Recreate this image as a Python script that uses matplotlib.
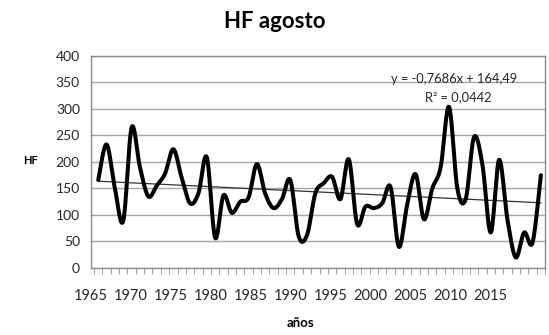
import numpy as np
import matplotlib.pyplot as plt
from matplotlib.ticker import MultipleLocator

plt.rcParams['font.family'] = ['Lato', 'DejaVu Sans']

years = list(range(1965, 2019))
hf = [166, 233, 150, 89, 265, 190, 135, 155, 178, 224,
      170, 122, 141, 209, 57, 137, 104, 125, 133, 196,
      140, 113, 130, 166, 60, 62, 141, 160, 172, 130,
      205, 83, 116, 113, 122, 153, 40, 120, 177, 92,
      150, 190, 304, 150, 130, 247, 195, 67, 204, 91,
      20, 67, 48, 175]
tick_years = [1965, 1970, 1975, 1980, 1985, 1990, 1995, 2000, 2005, 2010, 2015]
slope, intercept = -0.7686, 164.49


def smooth(x, y, n=20):
    # Excel-style smoothed line: Catmull-Rom curves through the points
    x = np.asarray(x, float)
    y = np.asarray(y, float)
    px = np.concatenate([[x[0]], x, [x[-1]]])
    py = np.concatenate([[y[0]], y, [y[-1]]])
    xs, ys = [], []
    t = np.linspace(0, 1, n, endpoint=False)
    for i in range(1, len(px) - 2):
        p0, p1, p2, p3 = [np.array([px[j], py[j]]) for j in (i - 1, i, i + 1, i + 2)]
        c1 = p1 + (p2 - p0) / 6
        c2 = p2 - (p3 - p1) / 6
        pts = ((1 - t) ** 3)[:, None] * p1 + (3 * (1 - t) ** 2 * t)[:, None] * c1 \
            + (3 * (1 - t) * t ** 2)[:, None] * c2 + (t ** 3)[:, None] * p2
        xs.extend(pts[:, 0])
        ys.extend(pts[:, 1])
    xs.append(x[-1])
    ys.append(y[-1])
    return np.array(xs), np.array(ys)


fig = plt.figure(figsize=(5.49, 3.35), dpi=100)
ax = fig.add_axes([0.1658, 0.2, 0.827, 0.633])

sx, sy = smooth(years, hf)
ax.plot(sx, sy, color='black', lw=2.9, solid_capstyle='round', zorder=3)

idx = np.arange(1, len(years) + 1)
ax.plot(years, slope * idx + intercept, color='#333333', lw=0.9, zorder=2)

ax.set_xlim(1964.5, 2018.5)
ax.set_ylim(0, 400)
ax.yaxis.set_major_locator(MultipleLocator(50))
ax.grid(axis='y', color='#a6a6a6', lw=1.0)
ax.set_axisbelow(True)

for s in ax.spines.values():
    s.set_color('#8c8c8c')
    s.set_linewidth(1.0)

# category boundaries as minor ticks, labels every 5 years
ax.set_xticks(np.arange(1964.5, 2019, 1.0), minor=True)
label_pos = [1964.14 + (y - 1965) * 0.956 for y in tick_years]
ax.set_xticks(label_pos)
ax.set_xticklabels([str(y) for y in tick_years])
ax.tick_params(axis='x', which='major', length=0, pad=15, labelsize=10.5, labelcolor='#262626')
ax.tick_params(axis='x', which='minor', length=4, color='#8c8c8c', direction='out')
ax.tick_params(axis='y', length=0, pad=8, labelsize=10, labelcolor='#262626')

fig.text(0.5, 0.935, 'HF agosto', ha='center', va='center', fontsize=16, fontweight='bold')
fig.text(0.055, 0.522, 'HF', ha='center', va='center', fontsize=8, fontweight='bold')
fig.text(0.547, 0.035, 'años', ha='center', va='center', fontsize=9.5, fontweight='bold')

ax.text(0.80, 0.89, 'y = -0,7686x + 164,49', transform=ax.transAxes,
        ha='center', va='center', fontsize=9.3, color='#262626')
ax.text(0.81, 0.805, 'R² = 0,0442', transform=ax.transAxes,
        ha='center', va='center', fontsize=9.3, color='#262626')

fig.savefig('out.png', dpi=100)
